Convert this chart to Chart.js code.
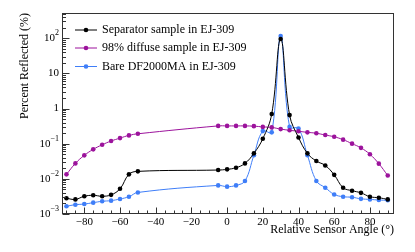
<!DOCTYPE html>
<html>
<head>
<meta charset="utf-8">
<script src="https://cdn.jsdelivr.net/npm/chart.js@4.4.1/dist/chart.umd.min.js"></script>
<style>
  body { margin: 0; background: #fff; }
</style>
</head>
<body>
<canvas id="grafico" width="415" height="252"></canvas>
<script>
// angulos medidos (graus)
const angulos = [-90, -85, -80, -75, -70, -65, -60, -55, -50,
                 -5, 0, 5, 10, 15, 20, 25, 30, 35, 40, 45, 50, 55, 60, 65, 70, 75, 80, 85, 90];

// refletancia (%) de cada amostra
const separador = [0.0028, 0.0026, 0.0032, 0.0034, 0.0032, 0.0035, 0.0052, 0.0134, 0.0163,
                   0.0178, 0.0186, 0.0207, 0.0275, 0.053, 0.138, 0.70, 95, 0.65, 0.15, 0.053,
                   0.032, 0.024, 0.013, 0.0056, 0.0046, 0.0040, 0.0031, 0.0029, 0.0026];
const difuso = [0.0134, 0.0275, 0.0466, 0.069, 0.093, 0.119, 0.144, 0.172, 0.191,
                0.32, 0.32, 0.32, 0.32, 0.315, 0.30, 0.29, 0.26, 0.24, 0.225, 0.21,
                0.198, 0.176, 0.157, 0.13, 0.10, 0.076, 0.05, 0.027, 0.0124];
const bare = [0.00166, 0.00184, 0.00192, 0.0021, 0.0023, 0.0024, 0.00267, 0.0031, 0.0041,
              0.0065, 0.006, 0.0065, 0.0087, 0.047, 0.228, 0.21, 115, 0.30, 0.27, 0.047,
              0.0087, 0.0056, 0.0036, 0.0031, 0.0030, 0.0027, 0.0026, 0.0025, 0.00245];

const legendas = ['Separator sample in EJ-309', '98% diffuse sample in EJ-309', 'Bare DF2000MA in EJ-309'];
const cores = ['#000000', '#9c139c', '#3f7ef8'];

// ticks
const ticksX = [-80, -60, -40, -20, 0, 20, 40, 60, 80];
const decadasY = [-3, -2, -1, 0, 1, 2];

const fonte = '"Liberation Serif", "DejaVu Serif", serif';

function pontos(valores) {
    return angulos.map((a, i) => ({ x: a, y: valores[i] }));
}

// desenha a moldura, ticks, rotulos e legenda no estilo ROOT
const eixos = {
    id: 'eixos',
    afterDraw(chart) {
        const { ctx, chartArea: a, scales: { x, y } } = chart;
        const L = Math.round(a.left) + 0.5, R = Math.round(a.right) - 0.5;
        const T = Math.round(a.top) + 0.5, B = Math.round(a.bottom) - 0.5;
        ctx.save();
        ctx.strokeStyle = '#333';
        ctx.lineWidth = 1;
        ctx.strokeRect(L, T, R - L, B - T);

        // ticks x
        ctx.beginPath();
        for (let v = -90; v <= 90; v += 5) {
            const px = Math.round(x.getPixelForValue(v)) + 0.5;
            const len = ticksX.includes(v) ? 6 : 3;
            ctx.moveTo(px, B);
            ctx.lineTo(px, B - len);
        }
        // ticks y
        for (const d of decadasY) {
            for (let k = 1; k <= 9; k++) {
                const v = k * Math.pow(10, d);
                if (v > y.max) break;
                const py = Math.round(y.getPixelForValue(v)) + 0.5;
                const len = k === 1 ? 7 : 3.5;
                ctx.moveTo(L, py);
                ctx.lineTo(L + len, py);
            }
        }
        ctx.stroke();

        // rotulos x
        ctx.fillStyle = '#000';
        ctx.font = '11px ' + fonte;
        ctx.textAlign = 'center';
        ctx.textBaseline = 'alphabetic';
        ticksX.forEach(v => {
            const txt = v < 0 ? '\u2212' + Math.abs(v) : String(v);
            ctx.fillText(txt, x.getPixelForValue(v), 225);
        });

        // rotulos y
        decadasY.forEach(d => {
            const py = y.getPixelForValue(Math.pow(10, d));
            const dir = 59;
            ctx.textBaseline = 'middle';
            if (d === 0 || d === 1) {
                ctx.font = '11px ' + fonte;
                ctx.textAlign = 'right';
                ctx.fillText(d === 0 ? '1' : '10', dir, py);
            } else {
                const exp = d < 0 ? '\u2212' + Math.abs(d) : String(d);
                ctx.font = '8px ' + fonte;
                const w = ctx.measureText(exp).width;
                ctx.textAlign = 'left';
                ctx.fillText(exp, dir - w, py - 5);
                ctx.font = '11px ' + fonte;
                ctx.textAlign = 'right';
                ctx.fillText('10', dir - w, py);
            }
        });

        // titulos
        ctx.font = '12px ' + fonte;
        ctx.textBaseline = 'alphabetic';
        ctx.textAlign = 'right';
        ctx.fillText('Relative Sensor Angle (\u00b0)', a.right, 233);
        ctx.save();
        ctx.translate(28, a.top);
        ctx.rotate(-Math.PI / 2);
        ctx.textAlign = 'right';
        ctx.fillText('Percent Reflected (%)', 0, 0);
        ctx.restore();

        // legenda
        const ys = [30, 48, 66.5];
        legendas.forEach((txt, i) => {
            ctx.strokeStyle = cores[i];
            ctx.fillStyle = cores[i];
            ctx.beginPath();
            ctx.moveTo(75, ys[i]);
            ctx.lineTo(97, ys[i]);
            ctx.stroke();
            ctx.beginPath();
            ctx.arc(86, ys[i], 2.3, 0, Math.PI * 2);
            ctx.fill();
            ctx.fillStyle = '#000';
            ctx.font = '12px ' + fonte;
            ctx.textAlign = 'left';
            ctx.textBaseline = 'middle';
            ctx.fillText(txt, 102, ys[i]);
        });
        ctx.restore();
    }
};

function serie(label, valores, cor) {
    return {
        label: label,
        data: pontos(valores),
        borderColor: cor,
        backgroundColor: cor,
        borderWidth: 1,
        pointRadius: 2.3,
        pointBorderWidth: 0,
        pointBackgroundColor: cor,
        tension: 0.4,
        fill: false
    };
}

const grafico = new Chart(document.getElementById('grafico'), {
    type: 'line',
    data: {
        datasets: [
            serie(legendas[0], separador, cores[0]),
            serie(legendas[1], difuso, cores[1]),
            serie(legendas[2], bare, cores[2])
        ]
    },
    options: {
        responsive: false,
        animation: false,
        devicePixelRatio: 1,
        layout: { padding: { top: 13, right: 21, left: 0, bottom: 0 } },
        plugins: { legend: { display: false }, tooltip: { enabled: false } },
        scales: {
            x: {
                type: 'linear', min: -92.5, max: 93.5,
                grid: { display: false }, border: { display: false },
                ticks: { display: false },
                afterFit(s) { s.height = 38; }
            },
            y: {
                type: 'logarithmic', min: 0.001, max: 520,
                grid: { display: false }, border: { display: false },
                ticks: { display: false },
                afterFit(s) { s.width = 62; }
            }
        }
    },
    plugins: [eixos]
});
</script>
</body>
</html>
